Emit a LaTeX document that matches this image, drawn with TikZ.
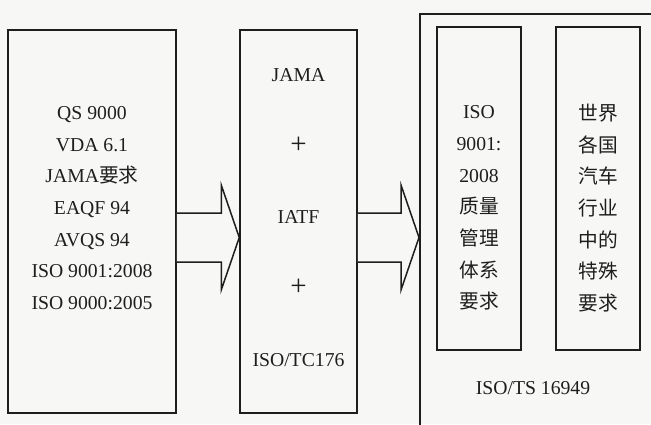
\documentclass[tikz,border=0pt]{standalone}
\usepackage{fontspec}
\setmainfont{Liberation Serif}
\newfontfamily\cjk{Noto Sans CJK SC}
\usetikzlibrary{calc}
\definecolor{paper}{RGB}{247,247,245}
\definecolor{ink}{RGB}{30,30,30}
\newcommand{\bigplus}{{\fontsize{29}{29}\selectfont +}}
\tikzset{
  box/.style={draw=ink,line width=1.5pt,inner sep=0pt},
  txt/.style={text=ink,font=\fontsize{19.7}{31.7}\selectfont,align=center,inner sep=0pt},
  fat arrow/.style={draw=ink,line width=1.5pt,fill=paper,line join=miter},
}

\begin{document}
\begin{tikzpicture}[x=1pt,y=-1pt]
  \clip (0,0) rectangle (651,424);
  \fill[paper] (0,0) rectangle (651,424);
  % boxes
  \node[box,minimum width=168pt,minimum height=383pt] (src) at (92,221.5) {};
  \node[box,minimum width=117pt,minimum height=383pt] (mid) at (298.5,221.5) {};
  \node[box,minimum width=260pt,minimum height=440pt,anchor=north west] (ts) at (419,13) {};
  \node[box,minimum width=84pt,minimum height=323pt] (iso) at (479,188.5) {};
  \node[box,minimum width=84pt,minimum height=323pt] (oem) at (598,188.5) {};
  % texts
  \node[txt] (srctext) at (src.center |- 0,208)
    {QS 9000\\VDA 6.1\\JAMA{\cjk 要求}\\EAQF 94\\AVQS 94\\ISO 9001:2008\\ISO 9000:2005};
  \foreach \y/\t [count=\i] in {75/JAMA,145/\bigplus,217/IATF,287/\bigplus,360/{ISO/TC176}}
    \node[txt] (mid\i) at (mid.center |- 0,\y) {\t};
  \node[txt] (isotext) at (iso.center |- 0,208)
    {ISO\\9001:\\2008\\{\cjk 质量}\\{\cjk 管理}\\{\cjk 体系}\\{\cjk 要求}};
  \node[txt,font=\fontsize{19.7}{31.7}\selectfont\cjk] (oemtext) at (oem.center |- 0,208)
    {世界\\各国\\汽车\\行业\\中的\\特殊\\要求};
  \node[txt] (tsname) at (533,388) {ISO/TS 16949};
  % block arrows
  \foreach \a/\b in {src/mid,mid/ts}
    \draw[fat arrow] (\a.east |- 0,213) -- ([xshift=-18pt]\b.west |- 0,213)
      -- ([xshift=-18pt]\b.west |- 0,185) -- (\b.west |- 0,237.5)
      -- ([xshift=-18pt]\b.west |- 0,290) -- ([xshift=-18pt]\b.west |- 0,262)
      -- (\a.east |- 0,262);
\end{tikzpicture}
\end{document}
